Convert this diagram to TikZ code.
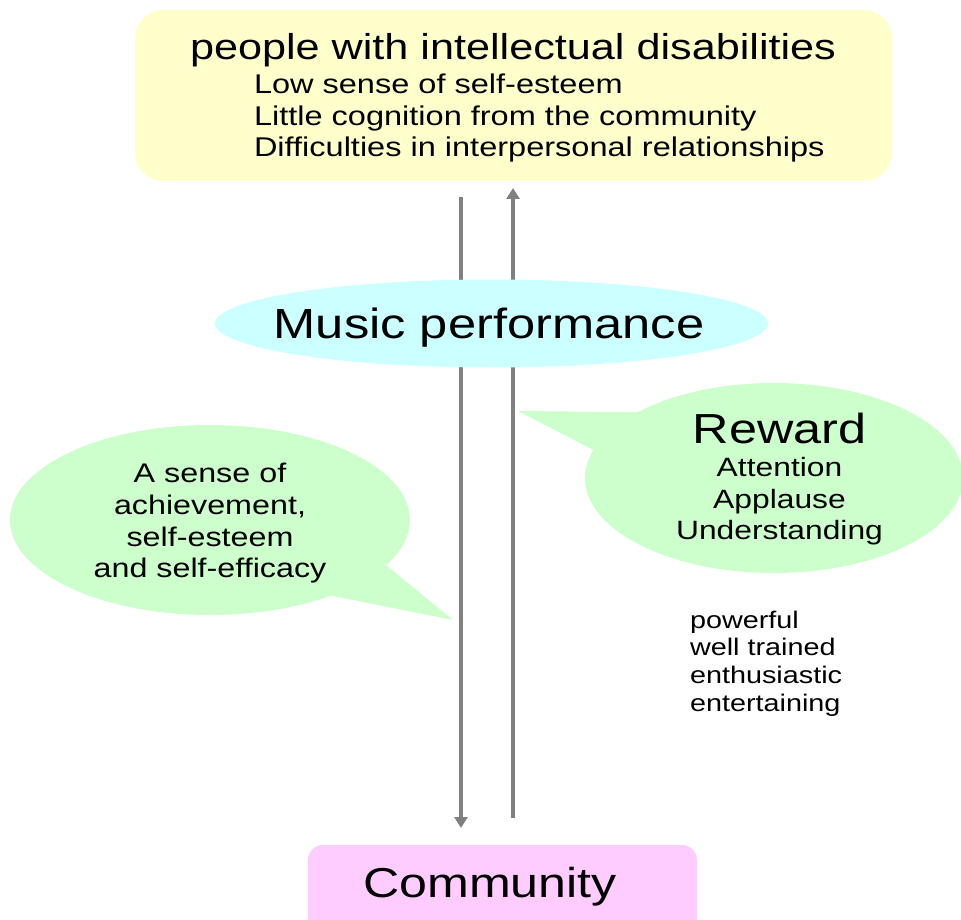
\documentclass[tikz,border=0pt]{standalone}
\usepackage{fontspec}
\setmainfont[FakeStretch=1.2]{Liberation Sans}
\usetikzlibrary{shapes.geometric,arrows.meta}
\definecolor{boxyellow}{RGB}{255,255,204}
\definecolor{boxcyan}{RGB}{204,255,255}
\definecolor{boxgreen}{RGB}{204,255,204}
\definecolor{boxpink}{RGB}{255,204,255}
\definecolor{arrowgray}{RGB}{128,128,128}
\begin{document}
\begin{tikzpicture}[x=1pt,y=-1pt,
  txt/.style={inner sep=0pt,outer sep=0pt,anchor=base},
  txtl/.style={inner sep=0pt,outer sep=0pt,anchor=base west},
  flow/.style={draw=arrowgray,line width=4pt,-{Triangle[length=11pt,width=13pt]}},
  bubble/.style={fill=boxgreen,draw=none}]
\useasboundingbox (0,0) rectangle (961,920);

% top box
\node[fill=boxyellow,rounded corners=28pt,minimum width=757pt,minimum height=171pt,inner sep=0pt] (top) at (513.5,95.5) {};
\node[txt] (ttitle) at (513,60) {\fontsize{36}{43}\selectfont people with intellectual disabilities};
\node[txtl] (tl1) at (254,93.5) {\fontsize{27.1}{32}\selectfont Low sense of self-esteem};
\node[txtl] (tl2) at (254,125.5) {\fontsize{27.1}{32}\selectfont Little cognition from the community};
\node[txtl] (tl3) at (254,156.5) {\fontsize{27.1}{32}\selectfont Difficulties in interpersonal relationships};

% community box
\node[fill=boxpink,rounded corners=15pt,minimum width=389pt,minimum height=90pt,inner sep=0pt] (comm) at (502.5,890) {};
\node[txt] (commtext) at (490,897) {\fontsize{41.8}{50}\selectfont Community};

% vertical arrows
\coordinate (dnS) at (461,197);
\coordinate (dnE) at (461,828);
\coordinate (upS) at (513,818);
\coordinate (upE) at (513,188);
\draw[flow] (dnS) -- (dnE);
\draw[flow] (upS) -- (upE);

% music performance
\node[ellipse,fill=boxcyan,minimum width=553pt,minimum height=88pt,inner sep=0pt] (perf) at (491.5,323.5) {};
\node[txt] (perftext) at (489,338) {\fontsize{42.2}{50}\selectfont Music performance};

% left speech bubble
\fill[bubble] (210,520) ellipse [x radius=200pt,y radius=95pt];
\fill[bubble] (380,560) -- (453,620) -- (333,596) -- (330,585) -- cycle;
\node[txt] (lb1) at (210,482.6) {\fontsize{26.9}{32}\selectfont A sense of};
\node[txt] (lb2) at (210,514.6) {\fontsize{26.9}{32}\selectfont achievement,};
\node[txt] (lb3) at (210,546.6) {\fontsize{26.9}{32}\selectfont self-esteem};
\node[txt] (lb4) at (210,577.6) {\fontsize{26.9}{32}\selectfont and self-efficacy};

% right speech bubble
\fill[bubble] (774,478) ellipse [x radius=189pt,y radius=95pt];
\fill[bubble] (620,412) -- (518,411) -- (605,456) -- (660,440) -- (645,412) -- cycle;
\node[txt] (rb0) at (779.5,443) {\fontsize{42}{50}\selectfont Reward};
\node[txt] (rb1) at (779.5,476.5) {\fontsize{26.5}{32}\selectfont Attention};
\node[txt] (rb2) at (779.5,508.5) {\fontsize{26.5}{32}\selectfont Applause};
\node[txt] (rb3) at (779.5,539.5) {\fontsize{26.5}{32}\selectfont Understanding};

% qualities list
\node[txtl] (q1) at (690,628) {\fontsize{24}{28}\selectfont powerful};
\node[txtl] (q2) at (690,655) {\fontsize{24}{28}\selectfont well trained};
\node[txtl] (q3) at (690,683) {\fontsize{24}{28}\selectfont enthusiastic};
\node[txtl] (q4) at (690,711) {\fontsize{24}{28}\selectfont entertaining};
\end{tikzpicture}
\end{document}
